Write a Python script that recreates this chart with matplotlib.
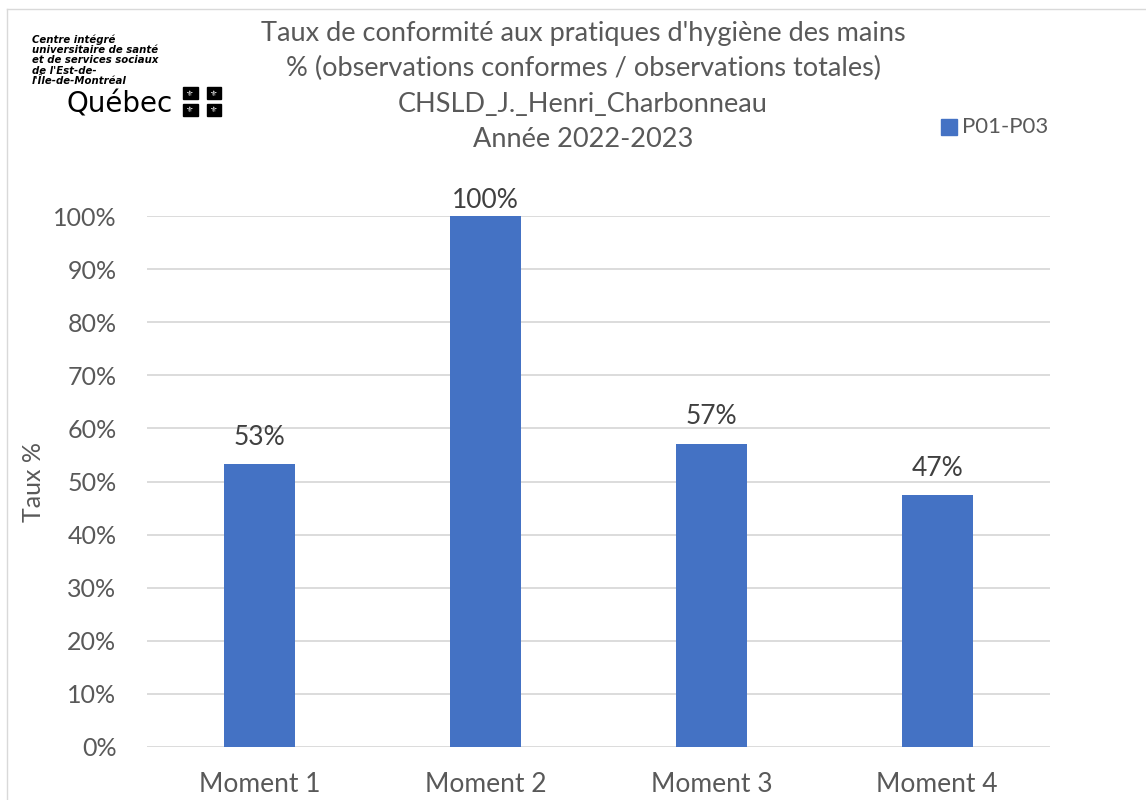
import matplotlib.pyplot as plt
from matplotlib.patches import Rectangle
from matplotlib.lines import Line2D

# Données
moments = ['Moment 1', 'Moment 2', 'Moment 3', 'Moment 4']
taux = [53.3, 100.0, 57.1, 47.4]
etiquettes = ['53%', '100%', '57%', '47%']
yticks = list(range(0, 101, 10))

gris = '#595959'
bleu = '#4472C4'
plt.rcParams['font.family'] = ['Lato', 'DejaVu Sans']

fig = plt.figure(figsize=(11.46, 8), dpi=100)
W, H = 1146, 800
ax = fig.add_axes([147 / W, 1 - 747 / H, (1050 - 147) / W, (747 - 216) / H])
ax.set_ylim(0, 100)
ax.set_xlim(-0.5, 3.5)

ax.bar(range(len(moments)), taux, width=0.315, color=bleu, zorder=3, label='P01-P03')
for i, (v, t) in enumerate(zip(taux, etiquettes)):
    # Excel garde l'étiquette dans la zone de tracé
    ax.text(i, min(v + 2.7, 100.6), t, ha='center', va='bottom', fontsize=19, color='#404040',
            clip_on=False)

ax.set_xticks(range(len(moments)))
ax.set_xticklabels(moments, fontsize=19, color=gris)
ax.set_yticks(yticks)
ax.set_yticklabels([f'{t}%' for t in yticks], fontsize=18, color=gris)
ax.tick_params(axis='y', length=0, pad=22)
ax.tick_params(axis='x', length=0, pad=18)
ax.grid(axis='y', color='#d9d9d9', linewidth=1.3, zorder=0)
for s in ax.spines.values():
    s.set_visible(False)
ax.set_ylabel('Taux %', fontsize=18, color=gris)
ax.yaxis.set_label_coords(-102 / 903, 0.5)

# Titre
titre = ["Taux de conformité aux pratiques d'hygiène des mains",
         "% (observations conformes / observations totales)",
         "CHSLD_J._Henri_Charbonneau",
         "Année 2022-2023"]
for k, ligne in enumerate(titre):
    fig.text(583 / W, 1 - (33 + 35.5 * k) / H, ligne, ha='center', va='center',
             fontsize=19.5, color=gris)

# Légende
fig.patches.append(Rectangle((941 / W, 1 - 135 / H), 16 / W, 16 / H,
                             transform=fig.transFigure, color=bleu))
fig.text(962 / W, 1 - 127 / H, 'P01-P03', ha='left', va='center', fontsize=16, color=gris)

# Cadre
fig.lines.append(Line2D([7 / W, 1], [1 - 9 / H, 1 - 9 / H], transform=fig.transFigure,
                        color='#d9d9d9', linewidth=1))
fig.lines.append(Line2D([7 / W, 7 / W], [0, 1 - 9 / H], transform=fig.transFigure,
                        color='#d9d9d9', linewidth=1))

# Logo
logo = ['Centre intégré', 'universitaire de santé', 'et de services sociaux',
        "de l'Est-de-", "l'Île-de-Montréal"]
for k, ligne in enumerate(logo):
    fig.text(32 / W, 1 - (40 + 10.2 * k) / H, ligne, ha='left', va='center',
             fontsize=7.3, fontweight='bold', fontstyle='italic', family='DejaVu Sans')
fig.text(66 / W, 1 - 104 / H, 'Québec', ha='left', va='center', fontsize=20,
         family='DejaVu Sans')
for cx, cy in [(190, 93), (214, 93), (190, 110), (214, 110)]:
    fig.patches.append(Rectangle(((cx - 7.5) / W, 1 - (cy + 6) / H), 15 / W, 12 / H,
                                 transform=fig.transFigure, color='black'))
    fig.text(cx / W, 1 - cy / H, '⚜', ha='center', va='center', fontsize=6,
             color='white', family='DejaVu Sans')

fig.savefig('out.png', dpi=100)
